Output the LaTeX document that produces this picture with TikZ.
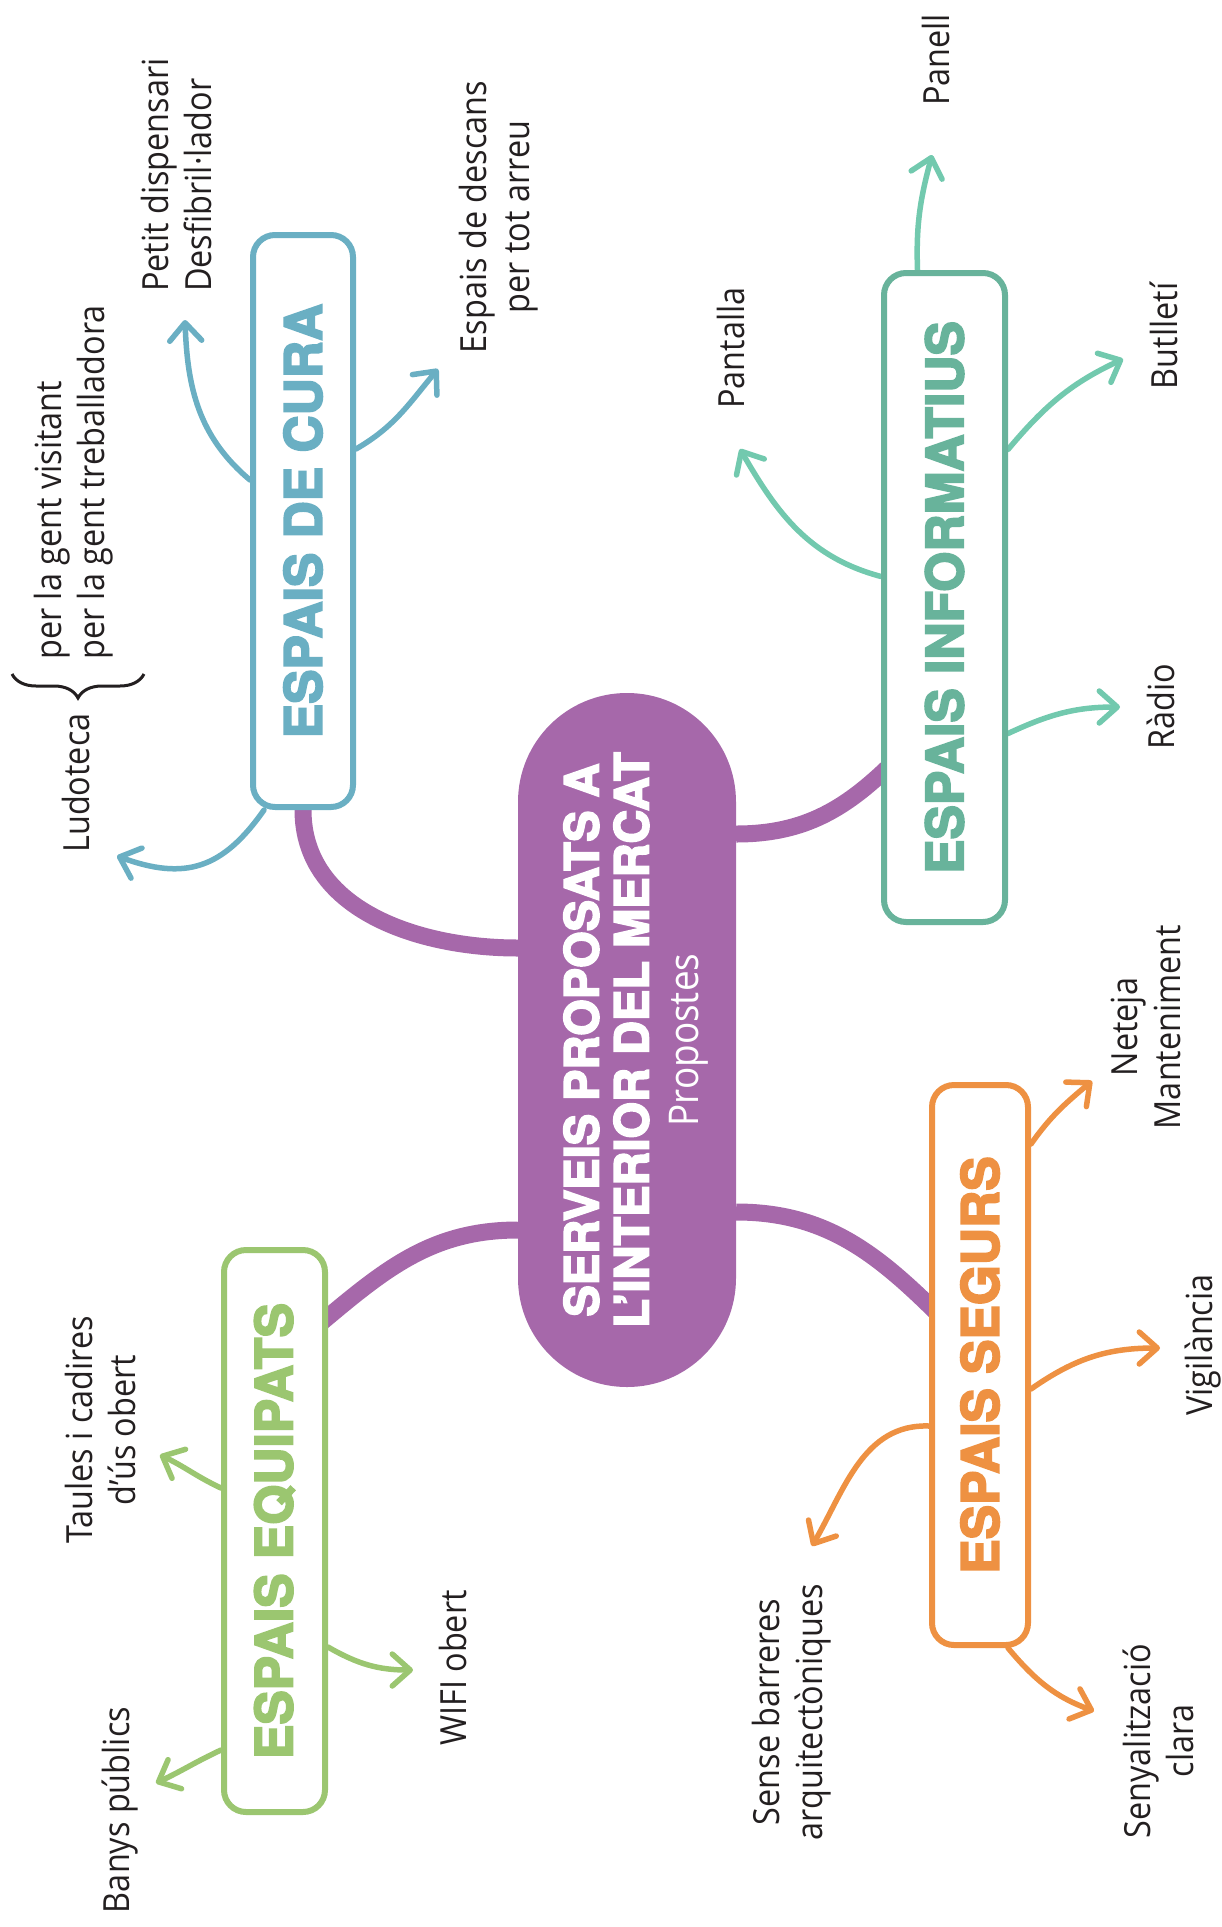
\documentclass[tikz,border=0pt]{standalone}
\usepackage{fontspec}
\usepackage{graphicx}
\usetikzlibrary{arrows.meta,decorations.pathreplacing,backgrounds}
\newfontfamily\lblfont{Open Sans}[FakeStretch=0.9]
\newfontfamily\headfont{TeX Gyre Heros}[BoldFeatures={FakeBold=3.5}]
\definecolor{mercat}{HTML}{A668AA}
\definecolor{cura}{HTML}{6AAFC3}
\definecolor{infobox}{HTML}{68B39B}
\definecolor{infoarrow}{HTML}{72C9AE}
\definecolor{segurs}{HTML}{EE9142}
\definecolor{equip}{HTML}{9BC670}
\definecolor{ink}{HTML}{231F20}
\tikzset{
  area/.style={draw=#1,line width=6pt,fill=white,rounded corners=22pt,inner sep=0pt,text=#1,
    font=\headfont\bfseries\fontsize{51.5}{60}\selectfont},
  lbl/.style={rotate=90,text=ink,inner sep=0pt,font=\lblfont\fontsize{36}{43}\selectfont},
  title/.style={rotate=90,text=white,inner sep=0pt,align=center,
    font=\headfont\bfseries\fontsize{47}{50}\selectfont},
  link/.style={draw=mercat,line width=17pt},
  branch/.style={draw=#1,line width=5.5pt,line cap=round,
    -{Straight Barb[length=18pt,width=32pt,line cap=round,line join=round]}}
}
\begin{document}
\begin{tikzpicture}[x=1pt,y=1pt]
\useasboundingbox (0,0) rectangle (1222,-1927);
\node[fill=mercat,minimum width=218pt,minimum height=694pt,rounded corners=108.9pt,inner sep=0pt] (main) at (627,-1040) {};
\node[title] (maintitle) at (636,-1040) {SERVEIS PROPOSATS A\\L’INTERIOR DEL MERCAT\\{\lblfont\mdseries\fontsize{41}{48}\selectfont Propostes}};
\node[area=cura,minimum width=100pt,minimum height=572pt] (cura) at (303,-521) {\rotatebox{90}{ESPAIS DE CURA}};
\node[area=infobox,minimum width=121pt,minimum height=649pt] (info) at (944.5,-597.5) {\rotatebox{90}{ESPAIS INFORMATIUS}};
\node[area=segurs,minimum width=96pt,minimum height=560pt] (segurs) at (980,-1365) {\rotatebox{90}{ESPAIS SEGURS}};
\node[area=equip,minimum width=101pt,minimum height=562pt] (equip) at (274.5,-1531) {\rotatebox{90}{ESPAIS EQUIPATS}};

\node[lbl,anchor=west,align=left] (petit) at (176,-292) {Petit dispensari\\Desfibril·lador};
\node[lbl,align=center] (descans) at (499,-217) {Espais de descans\\per tot arreu};
\node[lbl,anchor=west,align=left] (visit) at (74,-660) {per la gent visitant\\per la gent treballadora};
\node[lbl] (ludo) at (76,-783) {Ludoteca};
\node[lbl] (panell) at (936,-60) {Panell};
\node[lbl] (pantalla) at (731,-348) {Pantalla};
\node[lbl] (butlleti) at (1164,-336) {Butlletí};
\node[lbl] (radio) at (1161,-707) {Ràdio};
\node[lbl,align=center] (neteja) at (1146,-1027) {Neteja\\Manteniment};
\node[lbl] (vigil) at (1203,-1345) {Vigilància};
\node[lbl,align=center] (sense) at (792,-1712) {Sense barreres\\arquitectòniques};
\node[lbl,align=center] (senyal) at (1158,-1741) {Senyalització\\clara};
\node[lbl,align=center] (taules) at (100,-1430) {Taules i cadires\\d’ús obert};
\node[lbl] (banys) at (120,-1810) {Banys públics};
\node[lbl] (wifi) at (453,-1668) {WIFI obert};
\draw[ink,line width=3pt,decorate,decoration={brace,amplitude=24pt}] (144,-674) -- (12,-674);

\coordinate (tpetit) at (185,-320);
\coordinate (tdescans) at (438,-369);
\coordinate (tludo) at (117,-856);
\coordinate (tpanell) at (932,-155);
\coordinate (tpantalla) at (740,-449);
\coordinate (tbutlleti) at (1123,-359);
\coordinate (tradio) at (1120,-707);
\coordinate (tneteja) at (1092,-1081);
\coordinate (tvigil) at (1160,-1348);
\coordinate (tsense) at (812,-1546);
\coordinate (tsenyal) at (1094,-1711);
\coordinate (ttaules) at (160,-1455);
\coordinate (tbanys) at (156,-1783);
\coordinate (twifi) at (413,-1670);

\begin{pgfonlayer}{background}
\draw[link] (cura.south) to[out=-90,in=180] ([yshift=92pt]main.west);
\draw[link] ([yshift=206pt]main.east) to[out=0,in=-135] ([xshift=15pt,yshift=-162pt]info.west);
\draw[link] ([yshift=-172pt]main.east) to[out=0,in=135] ([xshift=15pt,yshift=45pt]segurs.west);
\draw[link] ([yshift=-190pt]main.west) to[out=180,in=40] ([xshift=-12pt,yshift=204pt]equip.east);

\draw[branch=cura] ([yshift=41pt]cura.west) to[out=140,in=-88] (tpetit);
\draw[branch=cura] ([yshift=72pt]cura.east) to[out=30,in=-130] (tdescans);
\draw[branch=cura] ([xshift=14pt]cura.south west) to[out=-125,in=-20,looseness=1.2] (tludo);
\draw[branch=infoarrow] ([xshift=-27pt]info.north) to[out=92,in=-105] (tpanell);
\draw[branch=infoarrow] ([yshift=21pt]info.west) to[out=165,in=-60] (tpantalla);
\draw[branch=infoarrow] ([yshift=148pt]info.east) to[out=50,in=-155] (tbutlleti);
\draw[branch=infoarrow] ([yshift=-136pt]info.east) to[out=25,in=180] (tradio);
\draw[branch=segurs] ([yshift=221pt]segurs.east) to[out=55,in=-140] (tneteja);
\draw[branch=segurs] ([yshift=-24pt]segurs.east) to[out=35,in=180] (tvigil);
\draw[branch=segurs] ([yshift=-61pt]segurs.west) to[out=178,in=60] (tsense);
\draw[branch=segurs] ([xshift=28pt]segurs.south) to[out=-50,in=160] (tsenyal);
\draw[branch=equip] ([yshift=43pt]equip.west) to[out=155,in=-25] (ttaules);
\draw[branch=equip] ([yshift=-219pt]equip.west) to[out=-155,in=25] (tbanys);
\draw[branch=equip] ([yshift=-116pt]equip.east) to[out=-30,in=180] (twifi);
\end{pgfonlayer}
\end{tikzpicture}
\end{document}
